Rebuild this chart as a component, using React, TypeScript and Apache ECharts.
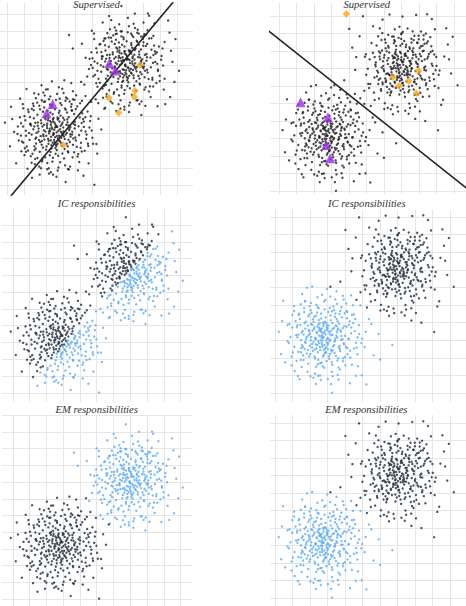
import { useEffect, useRef } from "react";
import * as echarts from "echarts";

// ---- Left data set (grid units: one unit = one grid cell) ----
const leftLow = [
  2.95,3.40, 2.31,2.88, 3.52,3.05, 2.74,3.92, 1.86,3.31, 3.18,2.47, 2.60,3.66, 3.91,3.58, 2.12,2.19, 3.37,3.81,
  2.48,3.02, 1.67,2.71, 3.05,4.22, 2.89,2.36, 3.74,2.83, 2.21,3.95, 1.42,3.48, 3.63,3.97, 2.56,1.94, 3.12,3.26,
  2.02,3.61, 4.21,3.44, 2.77,2.63, 1.95,2.52, 3.46,4.41, 2.39,4.35, 3.01,1.71, 1.58,3.90, 4.05,2.61, 2.66,3.28,
  3.29,2.91, 2.17,3.20, 1.33,2.64, 3.84,3.12, 2.53,4.71, 3.58,1.98, 2.84,3.55, 1.79,4.11, 4.48,3.86, 2.44,2.41,
  3.67,3.30, 2.08,1.48, 2.93,2.05, 1.11,3.17, 3.21,4.68, 2.70,3.84, 4.33,2.18, 1.61,2.27, 3.09,3.72, 2.35,3.47,
  3.95,4.15, 1.90,4.64, 2.59,2.82, 3.40,2.69, 2.25,1.62, 4.62,3.13, 1.74,3.05, 3.13,1.33, 2.82,4.43, 1.50,1.83,
  3.56,3.67, 2.13,2.95, 3.77,4.58, 0.96,2.48, 2.67,1.37, 3.88,2.35, 2.41,3.78, 1.27,4.27, 3.32,3.14, 4.14,4.60,
  2.99,2.73, 1.82,3.66, 2.47,5.02, 3.61,3.49, 2.05,2.58, 4.76,2.42, 3.23,2.29, 1.45,2.95, 2.73,3.04, 3.86,1.62,
  2.28,4.01, 3.44,4.93, 1.64,1.22, 2.91,3.41, 3.70,2.51, 2.17,4.86, 4.39,3.63, 2.62,2.14, 1.08,3.79, 3.15,4.06,
  2.51,3.29, 3.98,3.31, 1.98,2.86, 3.26,1.85, 2.80,2.51, 1.36,3.56, 4.57,2.01, 2.37,1.29, 3.53,4.24, 2.09,3.42,
  3.03,3.89, 1.71,2.43, 2.64,4.56, 4.02,2.78, 2.26,3.13, 3.39,2.11, 0.82,2.89, 2.95,5.33, 3.66,3.21, 1.93,1.95,
  2.76,2.98, 3.81,4.38, 1.55,3.26, 2.42,2.70, 4.28,3.95, 3.07,2.61, 2.19,4.53, 1.24,2.02, 3.49,3.52, 2.86,1.83,
  3.14,4.79, 2.00,3.79, 3.72,2.97, 2.58,3.51, 1.46,4.46, 4.85,3.36, 2.33,2.26, 3.27,3.66, 1.79,1.58, 2.69,4.14,
  4.11,2.24, 2.93,2.87, 1.61,3.42, 3.55,3.84, 2.46,0.98, 3.02,3.17, 1.88,2.63, 4.43,4.19, 2.71,3.72, 3.36,1.56,
  2.15,2.85, 3.90,2.72, 2.55,4.24, 1.03,4.03, 3.19,2.77, 2.88,4.97, 4.66,2.71, 1.67,3.64, 3.60,1.91, 2.37,3.59,
  3.41,4.47, 2.04,2.36, 2.83,3.36, 3.99,3.70, 1.40,1.68, 2.61,2.33, 3.73,3.39, 2.24,4.88, 4.19,1.81, 2.97,2.42,
  1.85,3.13, 3.30,3.93, 2.52,1.74, 4.93,4.02, 2.12,4.29, 3.62,2.64, 1.16,2.25, 2.79,3.66, 3.47,5.12, 2.30,2.07,
  3.83,2.96, 1.57,4.62, 2.90,2.28, 2.18,3.52, 3.09,4.34, 4.37,3.18, 2.45,2.59, 1.72,2.78, 3.24,3.02, 2.63,4.67,
  4.01,3.51, 2.70,1.59, 1.30,3.04, 3.51,2.42, 2.27,3.85, 3.16,3.46, 1.94,4.43, 4.52,3.72, 2.85,2.17, 2.06,1.38,
  3.35,2.84, 2.54,3.16, 1.69,2.14, 3.80,4.73, 2.98,3.83, 0.64,3.42, 3.57,2.26, 2.40,4.09, 4.24,2.92, 1.81,3.47,
  -0.12,3.65, 0.54,1.27, 0.24,4.58, 0.18,2.26, 1.15,5.61, 3.37,6.13, 4.36,6.03, 1.92,0.61, 3.45,0.18, 5.14,0.02,
  5.55,3.25, 5.31,1.84, 0.77,5.05, 4.95,4.86, 1.21,0.95, 5.02,2.77, 0.42,3.11, 2.64,6.06, 4.80,1.27, 3.88,5.48,
  2.29,5.59, 0.96,4.48, 5.38,3.88, 4.17,0.86, 1.60,5.37, 2.91,0.49, 0.69,2.60, 4.62,5.21, 3.05,5.72, 1.47,0.43,
  2.58,0.75, 5.26,2.40, 0.31,3.86, 3.78,5.96, 4.50,0.55, 1.03,1.75, 2.03,5.83, 5.72,4.46, 0.85,1.98, 3.64,0.91,
  2.78,3.23, 2.92,3.08, 2.63,3.37, 3.06,2.88, 2.71,2.92, 2.89,3.46, 2.47,3.14, 3.22,3.55, 2.58,2.61, 3.11,2.56,
  2.36,3.33, 3.31,3.36, 2.83,2.79, 2.54,3.74, 3.17,3.11, 2.20,2.66, 2.97,3.95, 3.45,2.95, 2.69,2.47, 2.43,3.90,
  1.35,3.98, 4.05,4.45, 1.62,2.05, 3.95,1.92, 2.05,4.95, 3.42,1.15, 1.12,2.88, 4.52,3.40, 2.36,0.92, 3.10,5.05,
  0.95,3.42, 4.68,2.95, 1.78,4.82, 4.25,1.35, 2.55,5.18, 1.45,1.30, 3.88,5.02, 0.88,2.55, 4.89,3.74, 2.98,0.85,
  1.24,4.41, 4.41,4.92, 1.90,1.08, 3.71,1.08, 2.14,5.41, 3.69,4.88, 0.76,3.96, 4.78,2.28, 1.53,4.76, 4.07,5.25,
  1.05,2.15, 3.33,5.38, 0.62,2.98, 4.98,3.19, 2.47,0.67, 4.30,4.78, 1.70,5.08, 3.59,0.94, 0.93,4.73, 5.07,2.41,
  1.66,1.52, 4.15,1.67, 2.22,5.23, 3.97,4.98, 1.38,3.58, 4.61,3.96, 2.71,0.61, 3.25,5.63, 1.12,1.95, 4.35,2.47,
  2.00,0.98, 3.82,4.34, 1.57,4.37, 4.74,4.30, 2.40,5.60, 3.03,1.03, 0.83,3.61, 4.40,1.96, 1.86,5.31, 3.55,5.05,
];

const leftHigh = [
  7.21,7.30, 6.55,6.62, 7.83,7.08, 6.92,7.84, 6.11,7.25, 7.44,6.41, 6.78,6.03, 8.12,7.61, 6.34,6.87, 7.56,7.97,
  6.68,7.43, 5.88,6.79, 7.31,8.19, 7.05,6.31, 8.02,6.83, 6.43,8.04, 5.63,7.52, 7.88,7.92, 6.74,5.82, 7.37,7.22,
  6.22,7.64, 8.44,7.45, 6.97,6.57, 6.16,6.46, 7.66,8.38, 6.58,8.33, 7.23,5.66, 5.79,7.86, 8.27,6.58, 6.86,7.25,
  7.52,6.90, 6.39,7.15, 5.54,6.62, 8.07,7.10, 6.73,8.69, 7.80,5.93, 7.06,7.51, 5.99,8.08, 8.70,7.82, 6.65,6.36,
  7.89,7.26, 6.30,5.43, 7.14,6.01, 5.32,7.12, 7.43,8.65, 6.91,7.80, 8.55,6.15, 5.82,6.22, 7.31,7.69, 6.57,7.44,
  8.17,8.13, 6.12,8.61, 6.80,6.77, 7.62,6.65, 6.47,5.59, 8.84,7.09, 5.95,7.01, 7.35,5.28, 7.04,8.40, 5.71,5.79,
  7.78,7.63, 6.35,6.93, 7.99,8.55, 5.18,6.44, 6.89,5.34, 8.10,6.30, 6.62,7.74, 5.49,8.24, 7.54,7.11, 8.36,8.57,
  7.20,6.68, 6.04,7.62, 6.69,8.98, 7.83,7.46, 6.26,6.54, 8.98,6.39, 7.45,6.26, 5.67,6.91, 6.95,6.99, 8.08,5.58,
  6.49,7.97, 7.66,8.90, 5.86,5.18, 7.13,7.37, 7.92,6.48, 6.39,8.83, 8.61,7.60, 6.84,6.09, 5.30,7.75, 7.37,8.03,
  6.72,7.26, 8.20,7.27, 6.19,6.82, 7.48,5.81, 7.02,6.47, 5.58,7.52, 8.79,5.97, 6.59,5.24, 7.75,8.20, 6.31,7.39,
  7.25,7.85, 5.93,6.39, 6.86,8.52, 8.24,6.74, 6.48,7.08, 7.61,6.07, 5.04,6.85, 7.17,9.28, 7.88,7.17, 6.15,5.92,
  6.98,6.94, 8.03,8.35, 5.77,7.22, 6.64,6.66, 8.50,7.91, 7.29,6.57, 6.41,8.49, 5.46,5.98, 7.71,7.48, 7.08,5.79,
  7.36,8.75, 6.22,7.76, 7.94,6.93, 6.80,7.47, 5.68,8.42, 9.07,7.32, 6.55,6.22, 7.49,7.62, 6.01,5.54, 6.91,8.10,
  8.33,6.20, 7.15,6.83, 5.83,7.38, 7.77,7.80, 6.68,4.95, 7.24,7.13, 6.10,6.59, 8.65,8.15, 6.93,7.68, 7.58,5.52,
  6.37,6.81, 8.12,6.68, 6.77,8.20, 5.25,7.99, 7.41,6.73, 7.10,8.93, 8.88,6.67, 5.89,7.60, 7.82,5.87, 6.59,7.55,
  7.63,8.43, 6.26,6.32, 7.05,7.32, 8.21,7.66, 5.62,5.64, 6.83,6.29, 7.95,7.35, 6.46,8.84, 8.41,5.77, 7.19,6.38,
  6.07,7.09, 7.52,7.89, 6.74,5.70, 9.15,7.98, 6.34,8.25, 7.84,6.60, 5.38,6.21, 7.01,7.62, 7.69,9.08, 6.52,6.03,
  8.05,6.92, 5.79,8.58, 7.12,6.24, 6.40,7.48, 7.31,8.30, 8.59,7.14, 6.67,6.55, 5.94,6.74, 7.46,6.98, 6.85,8.63,
  8.23,7.47, 6.92,5.55, 5.52,7.00, 7.73,6.38, 6.49,7.81, 7.38,7.42, 6.16,8.39, 8.74,7.68, 7.07,6.13, 6.28,5.34,
  7.57,6.80, 6.76,7.12, 5.91,6.10, 8.02,8.69, 7.20,7.79, 4.86,7.38, 7.79,6.22, 6.62,8.05, 8.46,6.88, 6.03,7.43,
  6.73,10.46, 10.12,6.68, 3.65,8.77, 3.87,7.98, 9.60,5.14, 7.90,4.10, 8.67,9.45, 8.03,9.50, 5.63,9.50, 6.13,9.64,
  9.56,8.91, 9.73,7.20, 4.41,8.26, 9.31,4.73, 4.72,6.34, 9.48,9.62, 7.18,4.27, 4.99,9.02, 6.43,4.33, 9.85,6.03,
  4.63,7.44, 8.85,4.61, 7.52,10.02, 5.22,5.01, 9.27,8.36, 4.55,5.87, 8.36,9.89, 7.11,9.77, 5.78,4.52, 9.64,7.85,
  6.90,4.58, 5.12,8.86, 9.22,5.58, 8.14,4.63, 4.94,7.02, 8.29,10.03, 6.01,9.88, 9.91,8.53, 5.37,4.79, 7.68,4.96,
  6.95,7.05, 7.11,6.88, 6.83,7.31, 7.28,6.79, 6.88,6.73, 7.07,7.40, 6.66,7.03, 7.40,7.51, 6.79,6.50, 7.33,6.52,
  6.56,7.25, 7.50,7.33, 7.01,6.71, 6.74,7.69, 7.38,7.09, 6.41,6.58, 7.16,7.88, 7.63,6.90, 6.90,6.41, 6.61,7.86,
  5.55,7.78, 8.25,8.25, 5.82,5.85, 8.15,5.72, 6.25,8.75, 7.62,4.95, 5.32,6.68, 8.72,7.20, 6.56,4.72, 7.30,8.85,
  5.15,7.22, 8.88,6.75, 5.98,8.62, 8.45,5.15, 6.75,8.98, 5.65,5.10, 8.08,8.82, 5.08,6.35, 9.09,7.54, 7.18,4.65,
  5.44,8.21, 8.61,8.72, 6.10,4.88, 7.91,4.88, 6.34,9.21, 7.89,8.68, 4.96,7.76, 8.98,6.08, 5.73,8.56, 8.27,9.05,
  5.25,5.95, 7.53,9.18, 4.82,6.78, 9.18,6.99, 6.67,4.47, 8.50,8.58, 5.90,8.88, 7.79,4.74, 5.13,8.53, 9.27,6.21,
  5.86,5.32, 8.35,5.47, 6.42,9.03, 8.17,8.78, 5.58,7.38, 8.81,7.76, 6.91,4.41, 7.45,9.43, 5.32,5.75, 8.55,6.27,
  6.20,4.78, 8.02,8.14, 5.77,8.17, 8.94,8.10, 6.60,9.40, 7.23,4.83, 5.03,7.41, 8.60,5.76, 6.06,9.11, 7.75,8.85,
];

// ---- Right data set ----
const rightLow = [
  2.52,3.71, 3.31,2.64, 2.07,3.18, 2.88,2.29, 3.66,3.94, 1.74,2.85, 2.63,4.52, 3.12,3.37, 2.29,1.96, 3.94,2.77,
  1.58,3.52, 2.96,3.85, 3.48,2.11, 2.41,2.72, 3.05,4.61, 2.17,4.19, 3.79,3.24, 1.33,2.34, 2.71,2.98, 3.27,1.61,
  2.84,3.53, 1.96,4.47, 3.57,3.58, 2.33,3.09, 4.26,4.08, 2.66,1.72, 1.48,3.01, 3.19,2.47, 2.01,2.21, 3.42,4.33,
  2.58,2.44, 3.86,3.06, 1.87,3.83, 2.99,3.11, 4.51,2.53, 2.22,3.63, 3.33,4.92, 1.62,1.87, 2.77,3.80, 3.72,2.39,
  2.12,2.59, 3.03,2.83, 4.09,3.77, 2.49,4.82, 1.25,3.74, 3.54,3.45, 2.81,1.44, 1.91,3.28, 3.18,4.14, 2.38,3.46,
  3.61,1.98, 2.70,3.29, 1.69,2.50, 3.97,4.53, 2.26,2.07, 3.36,3.70, 2.92,2.60, 1.41,4.20, 4.34,3.39, 2.55,3.96,
  3.15,3.02, 1.80,3.19, 2.47,1.89, 3.69,2.68, 2.03,4.71, 4.72,3.16, 2.89,4.30, 1.11,2.63, 3.40,2.28, 2.61,3.60,
  2.30,3.14, 3.82,4.31, 1.95,2.08, 2.75,4.01, 3.51,3.80, 2.44,2.32, 4.14,2.20, 1.66,4.60, 3.08,3.49, 2.19,2.90,
  3.25,4.65, 2.58,1.70, 1.52,3.44, 3.74,3.57, 2.86,2.53, 2.06,3.92, 4.39,4.44, 2.68,3.13, 3.56,1.85, 1.87,2.44,
  2.96,3.72, 3.43,2.97, 2.34,4.39, 4.00,2.05, 1.73,3.66, 3.13,4.84, 2.51,2.83, 1.28,3.16, 3.87,3.69, 2.79,2.17,
  2.14,3.54, 3.58,4.07, 2.72,1.53, 4.55,3.52, 1.98,2.69, 3.21,3.28, 2.40,4.58, 3.70,2.51, 1.60,2.14, 2.93,3.01,
  3.47,3.84, 2.27,2.47, 1.44,3.87, 3.10,1.93, 2.64,4.23, 4.22,3.88, 2.00,3.37, 3.38,2.72, 2.83,4.76, 1.77,3.07,
  3.99,3.25, 2.42,3.78, 3.23,2.36, 1.89,1.66, 2.97,3.59, 4.63,2.86, 2.20,4.05, 3.52,4.21, 2.56,2.62, 1.35,4.44,
  3.07,2.08, 2.62,3.50, 3.78,3.03, 1.68,3.96, 2.35,1.49, 4.11,4.25, 2.90,2.35, 1.97,4.94, 3.29,3.64, 2.47,2.96,
  3.63,2.59, 1.81,2.25, 2.78,3.16, 4.36,3.72, 2.13,3.88, 3.00,2.74, 1.54,2.71, 3.45,4.52, 2.67,3.67, 3.89,1.97,
  2.37,2.54, 3.17,4.41, 1.92,3.59, 4.05,2.62, 2.74,2.08, 2.24,4.34, 3.55,3.16, 1.46,1.88, 2.85,4.05, 3.30,2.43,
  2.05,3.00, 3.76,3.50, 2.51,4.15, 1.63,3.32, 4.46,3.98, 2.94,1.82, 3.39,2.93, 2.16,2.39, 3.06,3.84, 2.60,3.23,
  1.76,4.05, 3.92,2.83, 2.31,3.05, 3.27,3.97, 2.69,2.74, 1.21,3.29, 3.68,4.49, 2.45,1.64, 4.19,3.06, 2.80,3.42,
  3.50,3.25, 2.09,4.56, 2.87,2.28, 3.95,3.81, 1.71,2.91, 3.14,2.21, 2.52,3.55, 4.29,2.40, 2.25,3.74, 3.36,4.71,
  2.70,2.63, 1.94,3.50, 3.60,3.66, 2.43,4.87, 3.02,2.49, 1.50,2.55, 4.09,4.66, 2.77,3.94, 3.24,1.75, 2.11,2.79,
  0.21,3.48, 1.83,5.98, 1.09,4.94, 1.12,1.25, 3.26,0.02, 5.22,0.49, 5.92,3.35, 5.50,3.92, 6.70,2.73, 0.46,5.24,
  6.00,1.90, 4.95,1.01, 0.35,2.21, 4.88,4.98, 0.82,3.92, 2.33,0.51, 5.12,2.62, 1.55,5.63, 4.34,5.55, 0.58,1.75,
  3.63,0.76, 5.36,4.20, 1.40,0.78, 2.98,5.91, 0.99,4.45, 4.61,0.98, 3.87,5.52, 0.71,2.94, 2.46,0.98, 5.63,2.14,
  1.72,5.21, 4.73,1.52, 3.20,0.51, 0.94,1.57, 5.18,3.48, 2.12,6.05, 4.28,0.56, 0.40,4.09, 3.51,5.78, 1.31,0.96,
  2.74,3.18, 2.88,3.33, 2.61,2.99, 3.05,3.10, 2.69,3.44, 2.95,2.87, 2.50,3.26, 3.19,3.52, 2.82,2.72, 3.11,2.95,
  2.39,3.41, 3.28,3.31, 2.66,2.84, 2.57,3.62, 3.01,3.68, 2.32,2.77, 2.93,3.98, 3.43,3.09, 2.78,2.45, 2.48,3.89,
  4.12,4.61, 1.48,2.31, 3.71,1.34, 1.66,4.83, 4.66,2.58, 2.19,0.87, 0.98,3.72, 3.54,5.07, 4.79,3.86, 1.23,1.82,
  2.88,5.29, 4.02,1.58, 0.79,2.84, 3.29,0.95, 1.38,4.51, 4.45,4.99, 2.42,5.44, 1.02,2.31, 4.93,2.84, 3.79,4.87,
  1.85,1.21, 2.61,0.74, 4.30,2.02, 1.17,4.09, 3.92,5.31, 0.88,3.18, 4.58,4.21, 2.05,5.12, 3.58,1.02, 1.52,1.48,
  4.21,3.08, 1.33,3.32, 3.15,5.48, 2.28,1.10, 4.81,3.35, 1.71,5.22, 3.88,1.81, 0.71,3.87, 4.39,1.61, 2.69,5.58,
  1.59,2.63, 4.07,5.09, 2.02,0.95, 3.44,5.32, 1.09,4.66, 4.70,2.20, 2.57,1.00, 0.95,2.08, 3.72,4.66, 4.51,4.47,
  1.90,4.36, 3.63,1.45, 1.27,3.85, 4.14,2.55, 2.36,5.02, 3.02,0.79, 1.47,5.04, 4.98,3.08, 2.81,5.21, 3.25,1.20,
];

const rightHigh = [
  7.14,7.52, 6.43,6.78, 7.76,6.37, 6.69,8.07, 5.98,6.96, 7.52,7.44, 6.87,5.91, 8.05,7.83, 6.26,7.59, 7.38,6.49,
  6.61,6.24, 7.93,7.09, 5.75,7.68, 7.27,8.36, 6.92,6.58, 8.31,6.91, 6.35,5.47, 7.62,8.01, 6.08,6.43, 7.11,7.21,
  6.80,7.69, 7.45,5.76, 5.60,6.55, 8.12,8.27, 6.51,7.31, 7.85,6.11, 6.99,8.69, 5.89,8.03, 8.48,7.57, 6.72,6.83,
  7.30,6.73, 6.16,7.98, 7.67,7.77, 6.45,6.01, 8.59,6.48, 7.03,7.41, 5.51,7.22, 7.94,5.52, 6.63,8.55, 7.48,8.12,
  6.29,6.65, 8.21,7.98, 7.08,6.18, 5.83,5.82, 7.59,7.03, 6.94,8.31, 8.73,7.27, 6.38,7.09, 7.20,5.38, 6.03,7.77,
  7.81,6.86, 6.57,8.44, 7.36,7.61, 8.40,6.05, 5.67,6.77, 6.99,6.43, 7.70,8.62, 6.20,5.63, 8.17,7.43, 6.78,7.14,
  7.42,5.97, 5.95,7.41, 6.85,6.93, 8.88,7.80, 6.50,5.97, 7.58,8.48, 6.11,6.22, 7.99,6.69, 6.66,7.94, 7.23,7.86,
  8.26,8.66, 6.40,6.42, 7.17,5.63, 5.46,6.48, 7.87,7.30, 6.82,7.55, 8.62,6.30, 6.06,8.66, 7.34,6.90, 6.55,7.03,
  7.63,7.58, 6.23,7.26, 8.05,5.89, 6.97,7.87, 5.72,7.97, 7.49,6.64, 6.47,8.83, 8.45,8.44, 7.05,6.15, 6.31,5.81,
  8.36,7.11, 6.74,6.34, 7.25,8.23, 5.92,6.20, 7.73,6.24, 6.58,7.65, 8.82,6.69, 7.10,7.39, 6.14,6.69, 7.90,8.48,
  6.88,5.51, 7.56,7.25, 6.00,7.62, 8.14,6.44, 6.70,8.29, 7.31,6.62, 5.62,6.87, 8.53,7.68, 6.43,6.96, 7.80,7.79,
  7.12,6.03, 6.27,8.19, 8.33,7.51, 6.91,7.20, 5.84,5.73, 7.66,7.93, 6.54,6.60, 7.98,8.87, 6.19,7.46, 7.40,5.66,
  6.77,6.55, 8.01,6.79, 7.19,7.72, 5.54,7.35, 7.54,6.84, 6.39,5.62, 8.27,8.01, 6.84,8.75, 7.61,6.01, 6.12,6.31,
  7.94,7.24, 6.63,7.84, 7.29,6.26, 8.67,7.94, 6.01,6.85, 7.46,8.21, 6.95,5.74, 5.79,7.88, 8.09,6.58, 6.73,7.30,
  7.05,8.41, 6.36,6.14, 7.83,7.38, 6.59,8.62, 8.42,6.15, 7.21,6.97, 5.96,7.14, 7.70,5.80, 6.49,7.72, 8.21,8.30,
  6.86,6.73, 7.57,8.70, 6.17,5.95, 8.78,7.15, 7.00,7.64, 6.46,6.99, 7.91,6.43, 5.70,6.36, 7.37,7.99, 6.91,6.28,
  8.12,7.70, 6.68,5.89, 7.48,7.15, 6.24,8.28, 7.76,5.49, 6.97,7.49, 8.51,8.55, 6.33,6.61, 7.16,8.57, 5.87,7.05,
  7.64,6.56, 6.53,7.58, 8.30,7.04, 7.02,6.35, 6.10,8.47, 7.85,7.66, 6.81,7.01, 8.95,6.90, 6.42,5.68, 7.27,7.73,
  6.92,7.95, 7.74,6.22, 6.22,6.72, 8.04,8.17, 7.09,5.83, 5.78,7.53, 7.52,7.31, 6.63,6.18, 8.57,7.83, 6.99,8.96,
  7.39,6.67, 6.30,7.91, 7.98,7.53, 6.75,6.47, 8.40,8.99, 7.14,6.80, 5.93,6.10, 7.68,8.15, 6.56,7.37, 8.20,6.37,
  4.80,9.98, 5.92,9.79, 4.02,9.26, 10.21,6.04, 9.09,3.47, 9.56,9.30, 8.36,4.00, 6.51,4.39, 3.73,6.33, 4.42,7.65,
  3.16,6.04, 9.72,7.52, 5.25,4.86, 9.38,5.21, 4.61,8.84, 8.74,9.83, 5.11,6.12, 7.41,4.41, 9.65,8.37, 7.84,10.06,
  4.88,5.73, 6.32,10.08, 9.84,6.71, 4.36,6.92, 8.05,4.55, 5.38,9.41, 9.27,4.92, 4.97,7.81, 7.06,9.97, 6.02,4.69,
  9.45,7.68, 5.47,5.20, 8.91,9.24, 4.19,8.19, 7.79,4.12, 9.12,5.88, 5.76,9.29, 8.47,10.10, 4.65,5.30, 9.93,8.81,
  6.96,7.04, 7.13,6.86, 6.81,7.23, 7.26,7.12, 6.89,6.79, 7.05,7.36, 6.68,7.01, 7.37,6.81, 6.75,7.47, 7.18,6.62,
  6.59,7.15, 7.45,7.43, 7.03,6.68, 6.71,7.78, 7.33,7.05, 6.48,6.64, 7.19,7.82, 7.58,6.97, 6.86,6.48, 6.64,7.60,
  8.32,8.41, 5.68,6.11, 7.91,5.14, 5.86,8.63, 8.86,6.38, 6.39,4.67, 5.18,7.52, 7.74,8.87, 8.99,7.66, 5.43,5.62,
  7.08,9.09, 8.22,5.38, 4.99,6.64, 7.49,4.75, 5.58,8.31, 8.65,8.79, 6.62,9.24, 5.22,6.11, 9.13,6.64, 7.99,8.67,
  6.05,5.01, 6.81,4.54, 8.50,5.82, 5.37,7.89, 8.12,9.11, 5.08,6.98, 8.78,8.01, 6.25,8.92, 7.78,4.82, 5.72,5.28,
  8.41,6.88, 5.53,7.12, 7.35,9.28, 6.48,4.90, 9.01,7.15, 5.91,9.02, 8.08,5.61, 4.91,7.67, 8.59,5.41, 6.89,9.38,
  5.79,6.43, 8.27,8.89, 6.22,4.75, 7.64,9.12, 5.29,8.46, 8.90,6.00, 6.77,4.80, 5.15,5.88, 7.92,8.46, 8.71,8.27,
  6.10,8.16, 7.83,5.25, 5.47,7.65, 8.34,6.35, 6.56,8.82, 7.22,4.59, 5.67,8.84, 9.18,6.88, 7.01,9.01, 7.45,5.00,
];

// ---- Labelled points (Supervised panels) ----
const supLeftTriangles = [[2.69, 4.74], [2.33, 4.19], [6.02, 7.12], [6.37, 6.69]];
const supLeftDiamonds = [[7.82, 7.02], [7.53, 5.51], [7.49, 5.16], [6.0, 5.11], [6.57, 4.23], [3.31, 2.34]];
const supRightTriangles = [[1.24, 5.07], [2.8, 4.21], [2.7, 2.63], [2.93, 1.87]];
const supRightDiamonds = [[3.85, 10.11], [6.51, 6.5], [7.98, 6.86], [7.43, 6.29], [6.86, 6.02], [7.85, 5.58]];

// decision boundaries (two points on each line)
const supLeftLine = [[-0.2, -1.15], [10.2, 11.2]];
const supRightLine = [[-1.0, 9.47], [11.5, -0.45]];
// IC split in the left data set: dark above y = slope*x + intercept
const icLeftSlope = 1.13;
const icLeftIntercept = -0.58;

const titles = ["Supervised", "Supervised", "IC responsibilities", "IC responsibilities", "EM responsibilities", "EM responsibilities"];

// ---- layout ----
const panels = [
  { left: 0, top: 3, width: 193, height: 192, xMin: -0.41, xMax: 10.94, yMin: -0.58, yMax: 10.64 },
  { left: 270, top: 3, width: 196, height: 191, xMin: -0.51, xMax: 10.69, yMin: -0.17, yMax: 10.74 },
  { left: 2, top: 209, width: 190, height: 193, xMin: -0.64, xMax: 10.67, yMin: -0.54, yMax: 10.95 },
  { left: 270, top: 210, width: 196, height: 192, xMin: -0.29, xMax: 10.91, yMin: -0.51, yMax: 10.4 },
  { left: 2, top: 415, width: 190, height: 191, xMin: -0.64, xMax: 10.67, yMin: -0.42, yMax: 11.02 },
  { left: 270, top: 415, width: 196, height: 191, xMin: -0.29, xMax: 10.91, yMin: -0.46, yMax: 10.46 },
];
const titlePos = [
  { x: 96.5, y: 4.5 }, { x: 366.7, y: 4.5 },
  { x: 96.5, y: 203.4 }, { x: 366.8, y: 203.4 },
  { x: 96.7, y: 409.6 }, { x: 366.3, y: 409.6 },
];

const DARK = "#1d2938";
const BLUE = "#5aaaf0";
const BLACK = "#1a1a1a";
const PURPLE = "#9a2fe3";
const ORANGE = "#f7a51c";
const GRIDLINE = "#e6e6e6";

const pairs = (flat: number[]) => {
  const out: number[][] = [];
  for (let i = 0; i + 1 < flat.length; i += 2) out.push([flat[i], flat[i + 1]]);
  return out;
};

export default function App() {
  const ref = useRef<HTMLDivElement>(null);
  useEffect(() => {
    if (!ref.current) return;
    const chart = echarts.init(ref.current, undefined, { renderer: "svg" });

    const lLow = pairs(leftLow);
    const lHigh = pairs(leftHigh);
    const rLow = pairs(rightLow);
    const rHigh = pairs(rightHigh);
    const lAll = lLow.concat(lHigh);
    const rAll = rLow.concat(rHigh);
    const icDark = lAll.filter((p) => p[1] > icLeftSlope * p[0] + icLeftIntercept);
    const icBlue = lAll.filter((p) => p[1] <= icLeftSlope * p[0] + icLeftIntercept);

    const axisBase = (i: number, min: number, max: number) => ({
      type: "value" as const,
      gridIndex: i,
      min,
      max,
      minInterval: 1,
      maxInterval: 1,
      axisLine: { show: false },
      axisTick: { show: false },
      axisLabel: { show: false },
      splitLine: { show: true, showMinLine: false, showMaxLine: false, lineStyle: { color: GRIDLINE, width: 1 } },
    });

    const dots = (gi: number, data: number[][], color: string) => ({
      type: "scatter",
      xAxisIndex: gi,
      yAxisIndex: gi,
      data,
      symbol: "circle",
      symbolSize: 2.4,
      itemStyle: { color },
      silent: true,
      z: 2,
    });
    const marks = (gi: number, data: number[][], symbol: string, size: number, color: string) => ({
      type: "scatter",
      xAxisIndex: gi,
      yAxisIndex: gi,
      data,
      symbol,
      symbolSize: size,
      itemStyle: { color },
      silent: true,
      z: 4,
    });
    const boundary = (gi: number, data: number[][]) => ({
      type: "line",
      xAxisIndex: gi,
      yAxisIndex: gi,
      data,
      symbol: "none",
      clip: true,
      lineStyle: { color: "#222", width: 1.6 },
      silent: true,
      z: 3,
    });

    const option = {
      animation: false,
      grid: panels.map((p) => ({ left: p.left, top: p.top, width: p.width, height: p.height, containLabel: false })),
      xAxis: panels.map((p, i) => axisBase(i, p.xMin, p.xMax)),
      yAxis: panels.map((p, i) => axisBase(i, p.yMin, p.yMax)),
      series: [
        dots(0, lAll, BLACK),
        boundary(0, supLeftLine),
        marks(0, supLeftDiamonds, "diamond", 7.5, ORANGE),
        marks(0, supLeftTriangles, "triangle", 10, PURPLE),
        dots(1, rAll, BLACK),
        boundary(1, supRightLine),
        marks(1, supRightDiamonds, "diamond", 7.5, ORANGE),
        marks(1, supRightTriangles, "triangle", 10, PURPLE),
        dots(2, icBlue, BLUE),
        dots(2, icDark, DARK),
        dots(3, rLow, BLUE),
        dots(3, rHigh, DARK),
        dots(4, lHigh, BLUE),
        dots(4, lLow, DARK),
        dots(5, rLow, BLUE),
        dots(5, rHigh, DARK),
      ],
      graphic: titles.map((t, i) => ({
        type: "text",
        x: titlePos[i].x,
        y: titlePos[i].y,
        z: 100,
        silent: true,
        style: {
          text: t,
          font: 'italic 10.6px "Liberation Serif", serif',
          fill: "#333",
          align: "center",
          verticalAlign: "middle",
          textAlign: "center",
          textVerticalAlign: "middle",
        },
      })),
    };
    chart.setOption(option as any);
    return () => chart.dispose();
  }, []);
  return <div ref={ref} style={{ position: "absolute", left: 0, top: 0, width: 466, height: 606 }} />;
}
